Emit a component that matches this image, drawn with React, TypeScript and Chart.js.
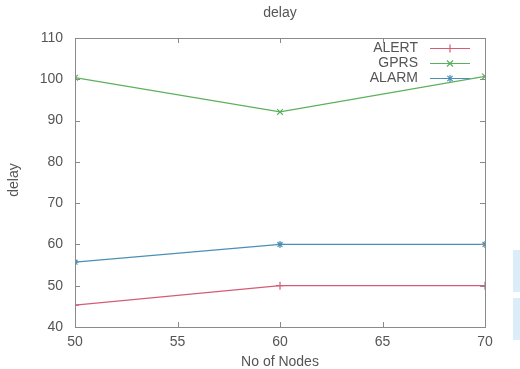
import React, { useEffect, useRef } from "react";
import { Chart, registerables } from "chart.js";

Chart.register(...registerables);

const nodes = [50, 60, 70];
const alertDelay = [45.3, 50, 50];
const gprsDelay = [100.4, 92.1, 100.7];
const alarmDelay = [55.7, 60, 60];
const xTicks = [50, 55, 60, 65, 70];
const yTicks = [40, 50, 60, 70, 80, 90, 100, 110];

const FONT = "'Liberation Sans', Arial, sans-serif";
const TEXT = "#555555";
const AXIS = "#8a8a8a";

const series = [
  { label: "ALERT", data: alertDelay, color: "#d45c78", style: "cross", r: 4 },
  { label: "GPRS", data: gprsDelay, color: "#5cb05c", style: "crossRot", r: 4 },
  { label: "ALARM", data: alarmDelay, color: "#4a8fb5", style: "star", r: 3.5 },
];

function marker(ctx: CanvasRenderingContext2D, style: string, x: number, y: number, r: number) {
  ctx.beginPath();
  if (style === "cross" || style === "star") {
    ctx.moveTo(x - r, y);
    ctx.lineTo(x + r, y);
    ctx.moveTo(x, y - r);
    ctx.lineTo(x, y + r);
  }
  if (style === "crossRot" || style === "star") {
    const d = r * 0.75;
    ctx.moveTo(x - d, y - d);
    ctx.lineTo(x + d, y + d);
    ctx.moveTo(x - d, y + d);
    ctx.lineTo(x + d, y - d);
  }
  ctx.stroke();
}

const framePlugin = {
  id: "frame",
  afterDraw(chart: any) {
    const { ctx, chartArea: a, scales } = chart;
    const xs = scales.x;
    const ys = scales.y;
    ctx.save();
    ctx.strokeStyle = AXIS;
    ctx.lineWidth = 1;
    ctx.strokeRect(Math.round(a.left) + 0.5, Math.round(a.top) + 0.5, Math.round(a.right - a.left), Math.round(a.bottom - a.top));
    ctx.beginPath();
    const tl = 5;
    xTicks.forEach((v) => {
      const px = Math.round(xs.getPixelForValue(v)) + 0.5;
      ctx.moveTo(px, a.bottom);
      ctx.lineTo(px, a.bottom - tl);
      ctx.moveTo(px, a.top);
      ctx.lineTo(px, a.top + tl);
    });
    yTicks.forEach((v) => {
      const py = Math.round(ys.getPixelForValue(v)) + 0.5;
      ctx.moveTo(a.left, py);
      ctx.lineTo(a.left + tl, py);
      ctx.moveTo(a.right, py);
      ctx.lineTo(a.right - tl, py);
    });
    ctx.stroke();

    ctx.fillStyle = TEXT;
    ctx.font = `14px ${FONT}`;
    ctx.textAlign = "center";
    ctx.textBaseline = "middle";
    xTicks.forEach((v) => {
      ctx.fillText(String(v), xs.getPixelForValue(v), a.bottom + 15);
    });
    const cx = (a.left + a.right) / 2;
    ctx.fillText("delay", cx, 13);
    ctx.fillText("No of Nodes", cx, 362);
    ctx.save();
    ctx.translate(14, 180);
    ctx.rotate(-Math.PI / 2);
    ctx.fillText("delay", 0, 0);
    ctx.restore();

    // legend (gnuplot style: text right-aligned, then line sample with marker)
    const legY = [48, 63, 78];
    series.forEach((s, i) => {
      const y = legY[i] + 0.5;
      ctx.fillStyle = TEXT;
      ctx.textAlign = "right";
      ctx.fillText(s.label, 418, legY[i]);
      ctx.strokeStyle = s.color;
      ctx.lineWidth = 1.2;
      ctx.beginPath();
      ctx.moveTo(430, y);
      ctx.lineTo(470, y);
      ctx.stroke();
      marker(ctx, s.style, 450, y, s.r);
    });
    ctx.restore();
  },
};

export default function App() {
  const ref = useRef<HTMLCanvasElement>(null);
  useEffect(() => {
    if (!ref.current) return;
    const chart = new Chart(ref.current, {
      type: "line",
      data: {
        datasets: series.map((s) => ({
          label: s.label,
          data: nodes.map((n, i) => ({ x: n, y: s.data[i] })),
          borderColor: s.color,
          backgroundColor: s.color,
          borderWidth: 1.2,
          pointStyle: s.style as any,
          pointRadius: s.r,
          pointBorderWidth: 1.2,
          pointBorderColor: s.color,
          pointBackgroundColor: s.color,
          tension: 0,
          fill: false,
        })),
      },
      options: {
        animation: false,
        responsive: false,
        maintainAspectRatio: false,
        layout: { padding: { left: 0, top: 38, right: 35, bottom: 42 } },
        plugins: {
          legend: { display: false },
          title: { display: false },
          tooltip: { enabled: false },
        },
        scales: {
          x: {
            type: "linear",
            min: 50,
            max: 70,
            afterFit: (s: any) => { s.height = 0; },
            grid: { display: false, drawTicks: false, tickLength: 0 },
            border: { display: false },
            ticks: { display: false },
          },
          y: {
            type: "linear",
            min: 40,
            max: 110,
            afterFit: (s: any) => { s.width = 75; },
            afterBuildTicks: (s: any) => { s.ticks = yTicks.map((v) => ({ value: v })); },
            grid: { display: false, drawTicks: false, tickLength: 0 },
            border: { display: false },
            ticks: { color: TEXT, font: { family: FONT, size: 14 }, padding: 12 },
          },
        },
      },
      plugins: [framePlugin],
    });
    return () => chart.destroy();
  }, []);
  return (
    <div style={{ position: "absolute", left: 0, top: 0, width: 520, height: 369, background: "#fff" }}>
      <canvas ref={ref} width={520} height={369} style={{ width: 520, height: 369, display: "block" }} />
      <div style={{ position: "absolute", left: 513, top: 250, width: 7, height: 42, background: "#dcedfa" }} />
      <div style={{ position: "absolute", left: 513, top: 298, width: 7, height: 42, background: "#dcedfa" }} />
    </div>
  );
}
